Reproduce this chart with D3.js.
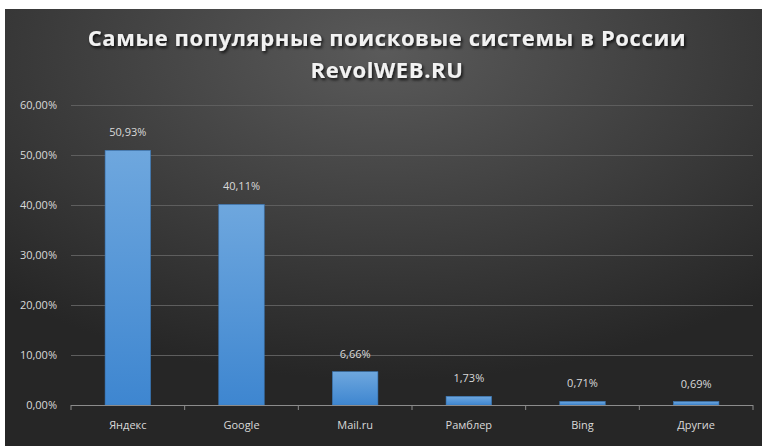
<!DOCTYPE html>
<meta charset="utf-8">
<script src="https://d3js.org/d3.v7.min.js"></script>
<style>
  body { margin: 0; background: #fff; }
  text { font-family: "Open Sans", "Noto Sans", sans-serif; }
</style>
<svg id="chart" width="762" height="446"></svg>
<script>
  // Data
  var categories = ["Яндекс", "Google", "Mail.ru", "Рамблер", "Bing", "Другие"];
  var values = [50.93, 40.11, 6.66, 1.73, 0.71, 0.69];
  var yTicks = [0, 10, 20, 30, 40, 50, 60];
  var titleLines = ["Самые популярные поисковые системы в России", "RevolWEB.RU"];

  var svg = d3.select("svg"),
    width = +svg.attr("width"),
    height = +svg.attr("height");

  var defs = svg.append("defs");

  var bg = defs.append("radialGradient")
    .attr("id", "bg")
    .attr("cx", "50%").attr("cy", "10%").attr("r", "75%");
  bg.append("stop").attr("offset", "0%").attr("stop-color", "#5a5a5a");
  bg.append("stop").attr("offset", "100%").attr("stop-color", "#262626");

  var barGrad = defs.append("linearGradient")
    .attr("id", "bar")
    .attr("x1", 0).attr("y1", 0).attr("x2", 0).attr("y2", 1);
  barGrad.append("stop").attr("offset", "0%").attr("stop-color", "#6ea7de");
  barGrad.append("stop").attr("offset", "100%").attr("stop-color", "#3e86d0");

  var shadow = defs.append("filter").attr("id", "shadow")
    .attr("x", "-5%").attr("y", "-20%").attr("width", "110%").attr("height", "140%");
  shadow.append("feDropShadow")
    .attr("dx", 1.5).attr("dy", 2).attr("stdDeviation", 1.5)
    .attr("flood-color", "#000").attr("flood-opacity", 0.8);

  // chart background (white margin on top/left as in the picture)
  svg.append("rect")
    .attr("x", 5).attr("y", 9)
    .attr("width", width - 5).attr("height", height - 9)
    .attr("fill", "url(#bg)");

  // Scales
  var x = d3.scaleBand()
    .domain(categories)
    .range([71, 753])
    .paddingInner(0.6)
    .paddingOuter(0.3);

  var y = d3.scaleLinear()
    .domain([0, 60])
    .range([405, 105]);

  // Gridlines
  svg.append("g")
    .selectAll("line")
    .data(yTicks.slice(1))
    .enter()
    .append("line")
      .attr("x1", 71).attr("x2", 753)
      .attr("y1", function(d) { return y(d) + 0.5; })
      .attr("y2", function(d) { return y(d) + 0.5; })
      .attr("stroke", "#5e5e5e")
      .attr("stroke-width", 1);

  // Y axis labels
  svg.append("g")
    .selectAll("text")
    .data(yTicks)
    .enter()
    .append("text")
      .attr("x", 57)
      .attr("y", function(d) { return y(d); })
      .attr("dy", "0.35em")
      .attr("text-anchor", "end")
      .attr("fill", "#d9d9d9")
      .style("font-size", "11px")
      .text(function(d) { return d.toFixed(2).replace(".", ",") + "%"; });

  // Bars
  svg.append("g")
    .selectAll("rect")
    .data(values)
    .enter()
    .append("rect")
      .attr("x", function(d, i) { return x(categories[i]); })
      .attr("y", function(d) { return y(d); })
      .attr("width", x.bandwidth())
      .attr("height", function(d) { return y(0) - y(d); })
      .attr("fill", "url(#bar)")
      .attr("stroke", "#3a78b8")
      .attr("stroke-width", 0.6);

  // Value labels
  svg.append("g")
    .selectAll("text")
    .data(values)
    .enter()
    .append("text")
      .attr("x", function(d, i) { return x(categories[i]) + x.bandwidth() / 2; })
      .attr("y", function(d) { return y(d) - 14; })
      .attr("text-anchor", "middle")
      .attr("fill", "#d9d9d9")
      .style("font-size", "11px")
      .text(function(d) { return d.toFixed(2).replace(".", ",") + "%"; });

  // X axis
  var xAxis = svg.append("g");
  xAxis.append("line")
    .attr("x1", 71).attr("x2", 753)
    .attr("y1", y(0) + 0.5).attr("y2", y(0) + 0.5)
    .attr("stroke", "#8c8c8c").attr("stroke-width", 1.2);
  xAxis.selectAll(".tick")
    .data(d3.range(categories.length + 1))
    .enter()
    .append("line")
      .attr("class", "tick")
      .attr("x1", function(i) { return 71 + i * (682 / categories.length); })
      .attr("x2", function(i) { return 71 + i * (682 / categories.length); })
      .attr("y1", y(0)).attr("y2", y(0) + 5)
      .attr("stroke", "#8c8c8c");
  xAxis.selectAll("text")
    .data(categories)
    .enter()
    .append("text")
      .attr("x", function(d) { return x(d) + x.bandwidth() / 2; })
      .attr("y", 429)
      .attr("text-anchor", "middle")
      .attr("fill", "#d9d9d9")
      .style("font-size", "11px")
      .text(function(d) { return d; });

  // Title
  svg.append("g")
    .selectAll("text")
    .data(titleLines)
    .enter()
    .append("text")
      .attr("x", 387)
      .attr("y", function(d, i) { return 46 + i * 32; })
      .attr("text-anchor", "middle")
      .attr("fill", "#f2f2f2")
      .attr("filter", "url(#shadow)")
      .style("font-weight", "bold")
      .style("font-size", "22px")
      .style("letter-spacing", "0.6px")
      .text(function(d) { return d; });
</script>
